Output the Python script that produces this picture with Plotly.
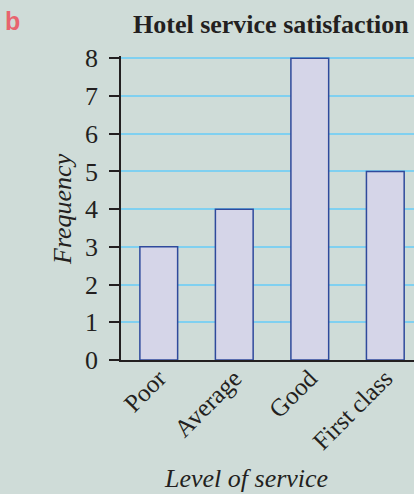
import plotly.graph_objects as go

# data
levels = ["Poor", "Average", "Good", "First class"]
frequency = [3, 4, 8, 5]
y_ticks = [0, 1, 2, 3, 4, 5, 6, 7, 8]

bg = "#cfdcd8"
serif = "Liberation Serif, Times New Roman, serif"

fig = go.Figure()
fig.add_trace(go.Bar(
    x=levels, y=frequency, width=0.5,
    marker=dict(color="#d5d5e8", line=dict(color="#2f4a9c", width=1.5)),
))

fig.update_layout(
    width=414, height=494,
    margin=dict(l=121, r=0, t=56, b=134),
    paper_bgcolor=bg, plot_bgcolor=bg,
    showlegend=False,
    font=dict(family=serif, color="#231f20"),
    xaxis=dict(
        range=[-0.5, 3.38], showgrid=False, showline=True, linecolor="#231f20",
        linewidth=1.5, ticks="", tickangle=-45, tickfont=dict(size=25),
        ticklabelstandoff=-8,
    ),
    yaxis=dict(
        range=[0, 8.06], tickvals=y_ticks, showgrid=True, gridcolor="#80d0f0",
        gridwidth=2, zeroline=False, showline=True, linecolor="#231f20",
        linewidth=1.5, ticks="outside", ticklen=10, tickcolor="#231f20",
        tickwidth=1.5, tickfont=dict(size=26), ticklabelstandoff=6,
    ),
    annotations=[
        dict(text="<b>b</b>", x=12, y=21, showarrow=False,
             font=dict(family="Liberation Sans, Arial, sans-serif", size=25, color="#e8646e")),
        dict(text="<b>Hotel service satisfaction</b>", x=271, y=25, showarrow=False,
             font=dict(size=26)),
        dict(text="<i>Level of service</i>", x=246, y=478, showarrow=False,
             font=dict(size=26)),
        dict(text="<i>Frequency</i>", x=62, y=209, textangle=-90, showarrow=False,
             font=dict(size=26)),
    ],
)

# place annotations in pixel coordinates of the page
for a in fig.layout.annotations:
    a.xref = "paper"
    a.yref = "paper"
    a.x = (a.x - 121) / 293
    a.y = 1 - (a.y - 56) / 304
    a.xanchor = "center"
    a.yanchor = "middle"

fig.write_html("out.html", config={"displayModeBar": False},
               post_script="document.body.style.margin='0';")
